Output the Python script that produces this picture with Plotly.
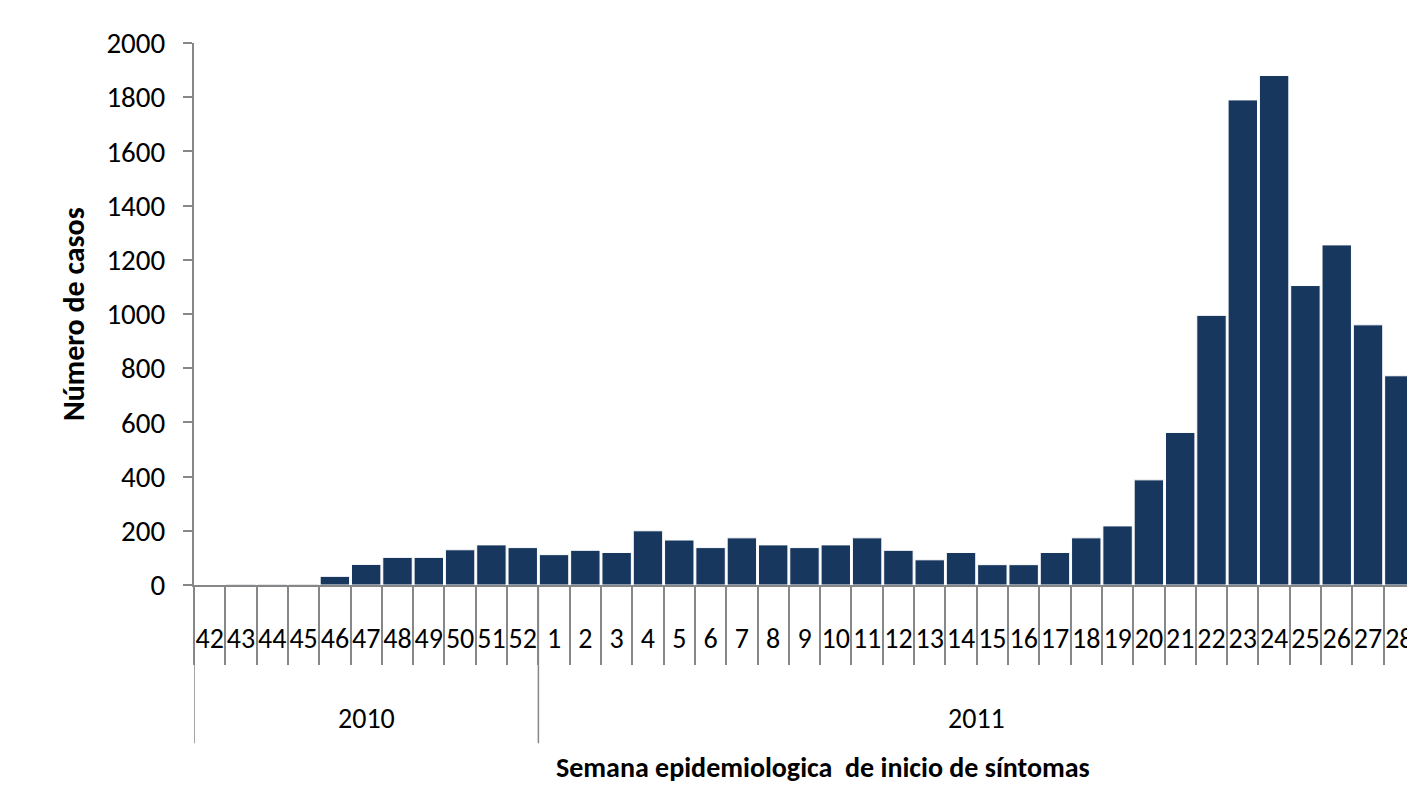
import plotly.graph_objects as go

# ---- data ----
weeks_2010 = ["42", "43", "44", "45", "46", "47", "48", "49", "50", "51", "52"]
cases_2010 = [0, 3, 3, 3, 32, 76, 102, 102, 130, 148, 138]
weeks_2011 = [str(w) for w in range(1, 29)]
cases_2011 = [112, 128, 120, 200, 166, 138, 174, 148, 138, 148, 174, 128, 93, 120,
              75, 75, 120, 174, 218, 388, 563, 995, 1790, 1880, 1105, 1255, 960, 772]
years = ["2010", "2011"]
y_title = "Número de casos"
x_title = "Semana epidemiologica  de inicio de síntomas"
y_ticks = list(range(0, 2001, 200))

weeks = weeks_2010 + weeks_2011
cases = cases_2010 + cases_2011
groups = [weeks_2010, weeks_2011]

FONT = "Carlito, Calibri, Lato, sans-serif"
GRAY = "#878787"
BAR = "#17375E"

fig = go.Figure()
fig.add_trace(go.Bar(
    x=weeks, y=cases,
    marker=dict(color=BAR, line=dict(color="white", width=1)),
    hoverinfo="x+y",
))

# year group dividers and labels
start = -0.5
shapes = []
annotations = []
bottom = -0.292
for yr, grp in zip(years, groups):
    end = start + len(grp)
    shapes.append(dict(type="line", xref="x", yref="paper", x0=start, x1=start,
                       y0=0, y1=bottom, line=dict(color=GRAY, width=1.5)))
    annotations.append(dict(xref="x", yref="paper", x=(start + end) / 2, y=-0.246,
                            text=yr, showarrow=False, xanchor="center", yanchor="middle",
                            font=dict(family=FONT, size=28, color="black")))
    start = end
shapes.append(dict(type="line", xref="x", yref="paper", x0=start, x1=start,
                   y0=0, y1=bottom, line=dict(color=GRAY, width=1.5)))

annotations.append(dict(xref="paper", yref="paper", x=-0.099, y=0.5, text="<b>" + y_title + "</b>",
                        textangle=-90, showarrow=False, xanchor="center", yanchor="middle",
                        font=dict(family=FONT, size=30, color="black")))
annotations.append(dict(xref="paper", yref="paper", x=0.515, y=-0.336, text="<b>" + x_title + "</b>",
                        showarrow=False, xanchor="center", yanchor="middle",
                        font=dict(family=FONT, size=28, color="black")))

fig.update_layout(
    width=1407, height=778,
    margin=dict(l=186, r=0, t=35, b=201),
    paper_bgcolor="white", plot_bgcolor="white",
    showlegend=False,
    bargap=0.06,
    shapes=shapes,
    annotations=annotations,
    font=dict(family=FONT, color="black"),
)
fig.update_xaxes(
    type="category", categoryorder="array", categoryarray=weeks,
    range=[-0.5, len(weeks) - 0.5],
    tickmode="linear", tick0=0, dtick=1,
    showline=True, linecolor=GRAY, linewidth=2,
    ticks="outside", tickson="boundaries", ticklen=78, tickcolor=GRAY, tickwidth=1.5,
    tickangle=0, ticklabelstandoff=27,
    tickfont=dict(family=FONT, size=28, color="black"),
    showgrid=False, zeroline=False, automargin=False,
)
fig.update_yaxes(
    range=[0, 2000], tickvals=y_ticks,
    showline=True, linecolor=GRAY, linewidth=2,
    ticks="outside", ticklen=9, tickcolor=GRAY, tickwidth=2,
    ticklabelstandoff=12,
    tickfont=dict(family=FONT, size=29, color="black"),
    showgrid=False, zeroline=False, automargin=False,
)

fig.write_html("out.html")
